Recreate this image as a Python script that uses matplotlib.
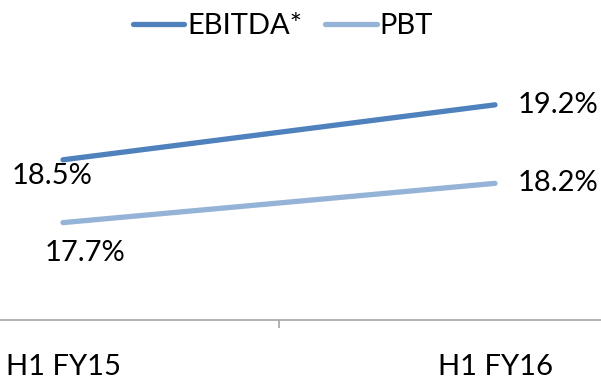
import matplotlib.pyplot as plt

categories = ['H1 FY15', 'H1 FY16']
ebitda = [18.5, 19.2]
pbt = [17.7, 18.2]

plt.rcParams['font.family'] = ['Lato', 'DejaVu Sans']

fig = plt.figure(figsize=(6.01, 3.80), dpi=100)
# axes extend past the figure edges, as in the cropped original
ax = fig.add_axes([-153 / 601, 60 / 380, 864 / 601, 278 / 380])
x = [0, 1]
ax.plot(x, ebitda, color='#4F81BD', lw=3.8, solid_capstyle='round', label='EBITDA*')
ax.plot(x, pbt, color='#95B3D7', lw=3.8, solid_capstyle='round', label='PBT')
ax.set_xlim(-0.5, 1.5)
ax.set_ylim(16.46, 20.0)

for s in ['top', 'right', 'left']:
    ax.spines[s].set_visible(False)
ax.spines['bottom'].set_color('#A6A6A6')
ax.spines['bottom'].set_linewidth(1.2)
ax.set_yticks([])
ax.set_xticks([0.5])
ax.set_xticklabels([''])
ax.tick_params(axis='x', length=6, width=1.2, color='#A6A6A6')

fs = 21
for xi, name in zip(x, categories):
    ax.annotate(name, (xi, 16.46), xytext=(0, -34), textcoords='offset points',
                ha='center', va='center', fontsize=fs)

ax.annotate('%.1f%%' % ebitda[0], (0, ebitda[0]), xytext=(-8, -12), textcoords='offset points',
            ha='center', va='center', fontsize=fs)
ax.annotate('%.1f%%' % pbt[0], (0, pbt[0]), xytext=(16, -22), textcoords='offset points',
            ha='center', va='center', fontsize=fs)
ax.annotate('%.1f%%' % ebitda[1], (1, ebitda[1]), xytext=(45, 0), textcoords='offset points',
            ha='center', va='center', fontsize=fs)
ax.annotate('%.1f%%' % pbt[1], (1, pbt[1]), xytext=(45, 0), textcoords='offset points',
            ha='center', va='center', fontsize=fs)

fig.legend(loc='center', bbox_to_anchor=(283 / 601, 1 - 26 / 380), ncol=2, frameon=False,
           fontsize=fs, handlelength=1.75, handletextpad=0.1, columnspacing=0.8)

fig.savefig('out.png', dpi=100)
